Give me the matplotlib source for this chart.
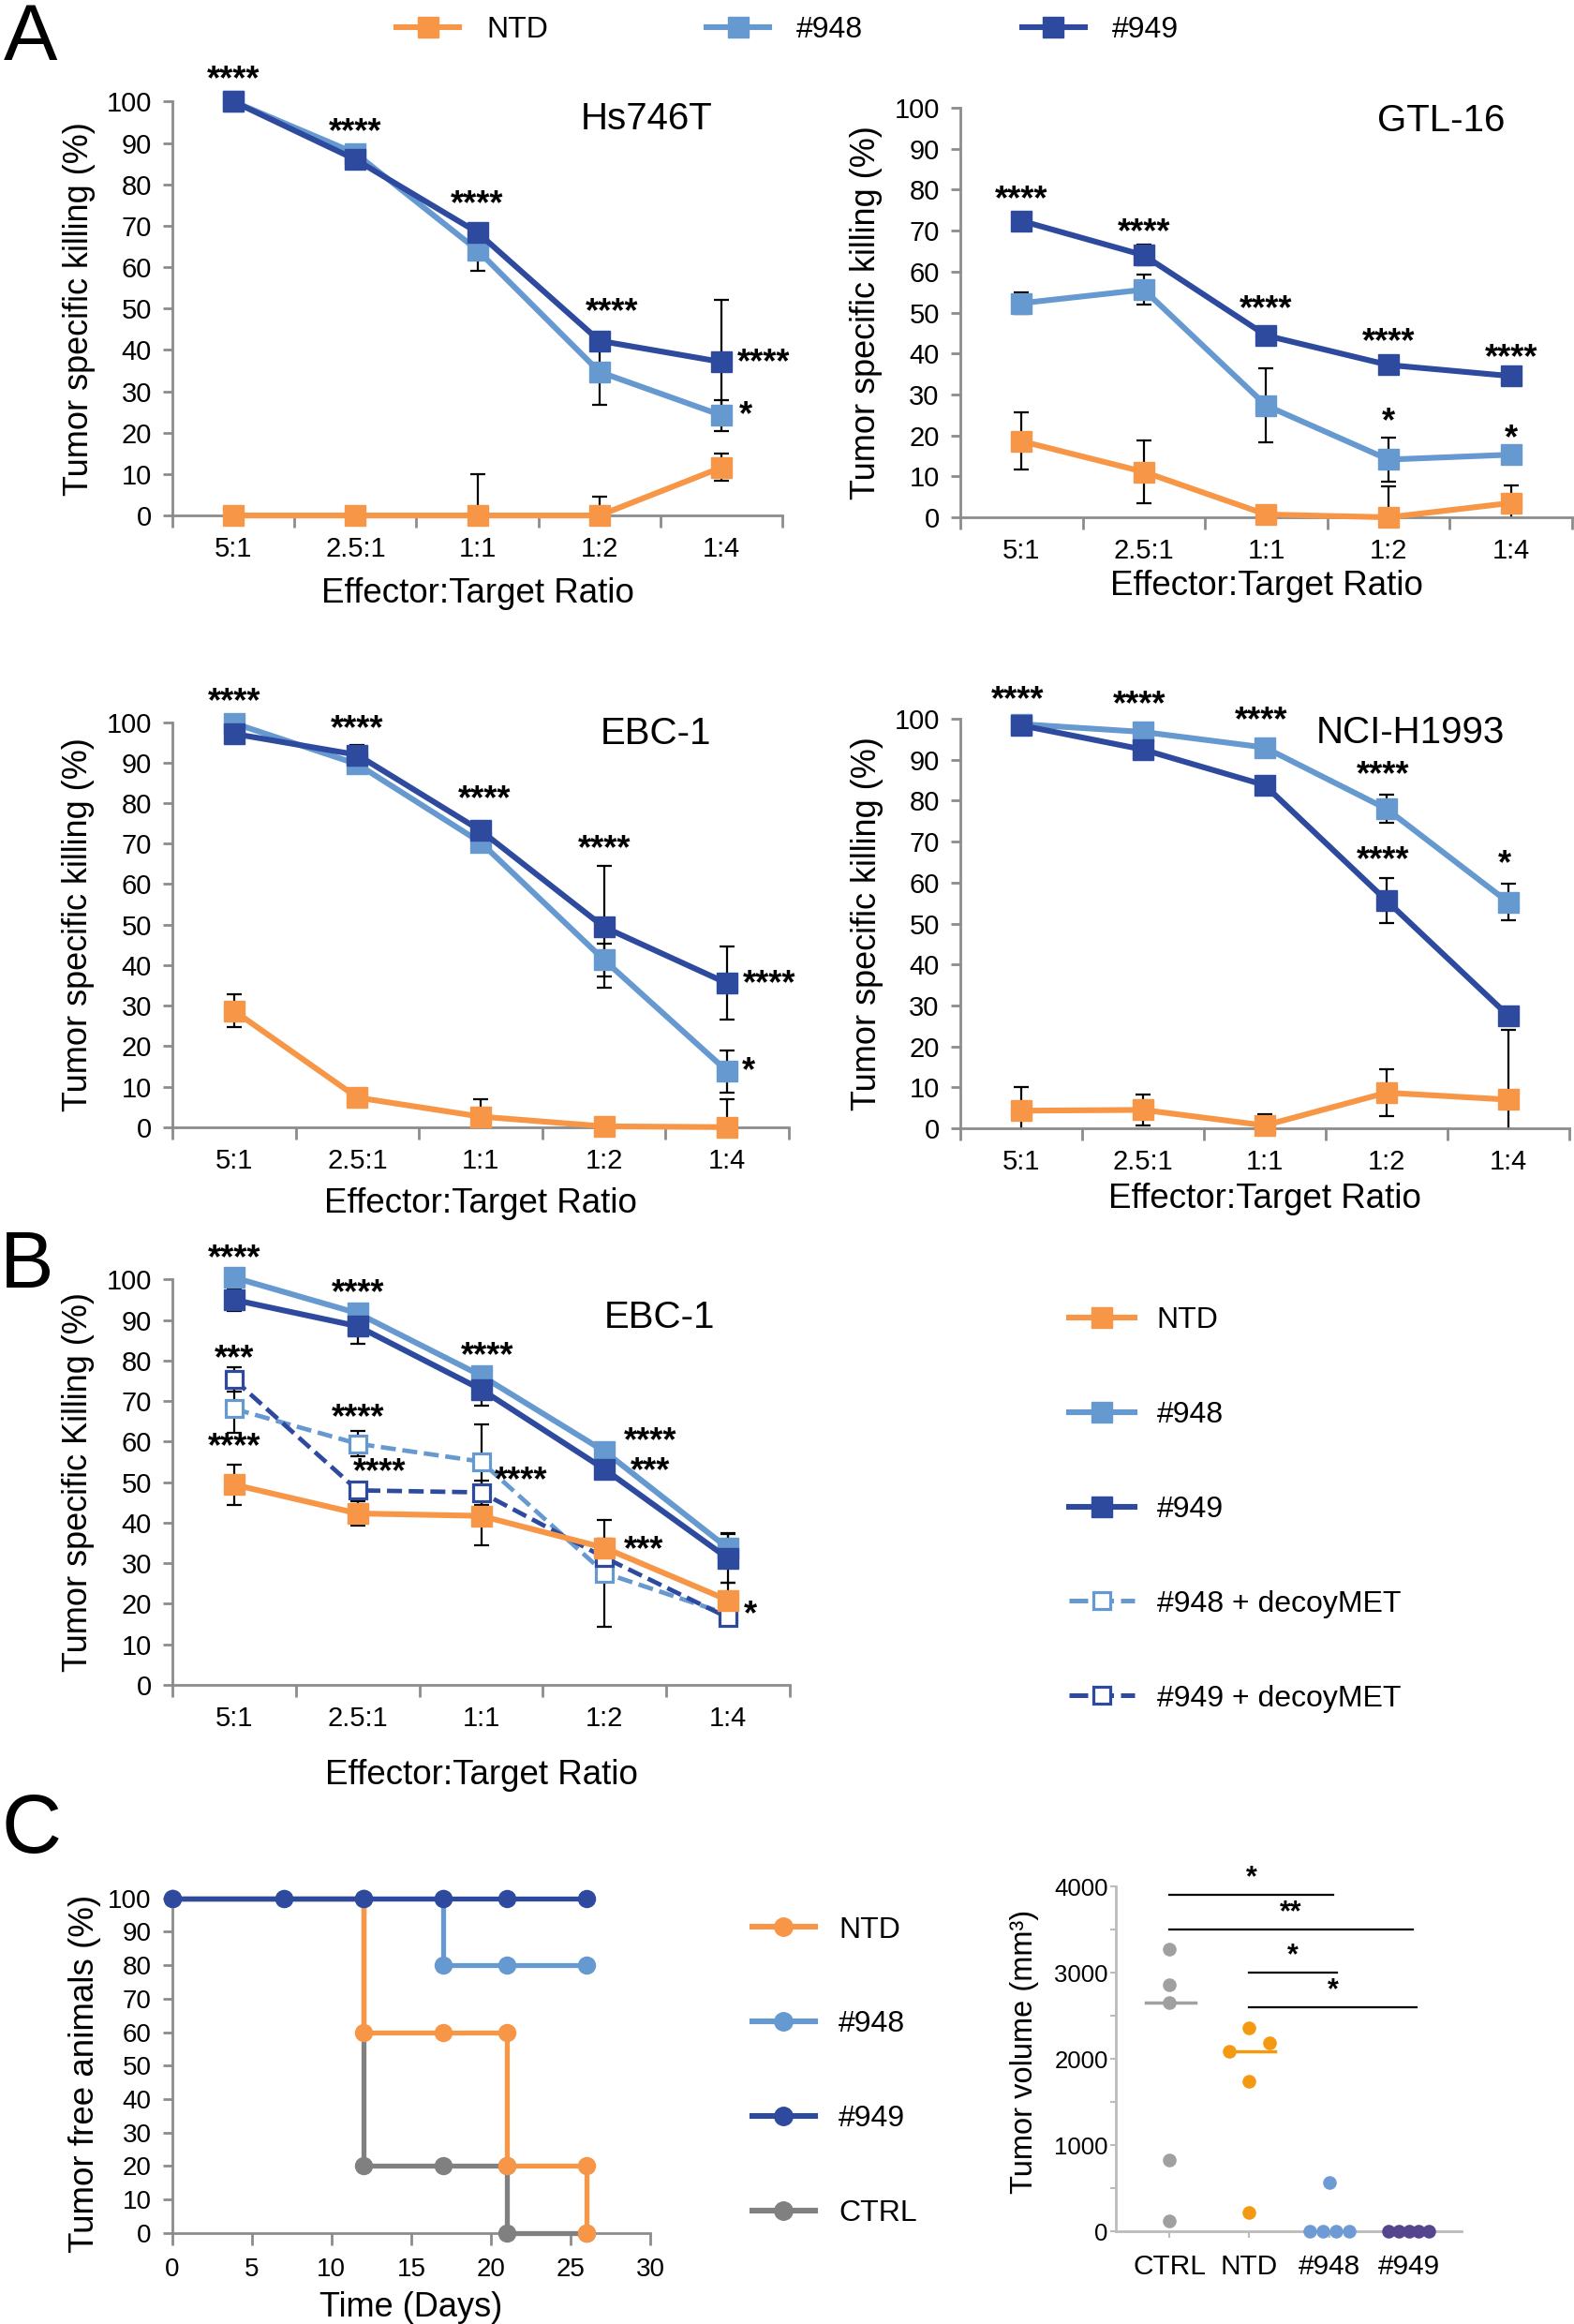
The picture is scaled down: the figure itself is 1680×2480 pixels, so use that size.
import matplotlib
matplotlib.use("Agg")
import matplotlib.pyplot as plt
from matplotlib.lines import Line2D
import numpy as np

plt.rcParams['font.family'] = ['Liberation Sans', 'DejaVu Sans']

# ---------------- data ----------------
ratios = ['5:1', '2.5:1', '1:1', '1:2', '1:4']
groups = ['NTD', '#948', '#949']

hs746t_mean = {'NTD': [0, 0, 0, 0, 11.6],
               '#948': [100, 87.5, 64.1, 34.7, 24.2],
               '#949': [100, 86.0, 68.4, 42.2, 37.1]}
hs746t_err = {'NTD': [0, 1.5, 10, 4.5, 3.3],
              '#948': [1.5, 1, 5, 8, 3.7],
              '#949': [1.5, 1, 1.5, 2, 15]}
hs746t_stars = [(0, 105.1, '****'), (1, 92.4, '****'), (2, 75.0, '****'),
                (3.1, 48.9, '****'), (4.13, 36.8, '****'), (4.2, 24.2, '*')]

gtl16_mean = {'NTD': [18.6, 11.1, 0.7, 0, 3.5],
              '#948': [52.3, 55.6, 27.3, 14.1, 15.3],
              '#949': [72.4, 64.0, 44.4, 37.2, 34.5]}
gtl16_err = {'NTD': [7, 7.7, 0.5, 7.6, 4.3],
             '#948': [2.7, 3.7, 9, 5.3, 1],
             '#949': [1, 2.5, 1.5, 1.5, 1]}
gtl16_stars = [(0, 77.5, '****'), (1, 69.4, '****'), (2, 50.6, '****'),
               (3, 42.6, '****'), (4, 38.7, '****'), (3, 23.2, '*'), (4, 19.1, '*')]

ebc1_mean = {'NTD': [28.7, 7.3, 2.6, 0.2, 0],
             '#948': [99.7, 89.6, 70.3, 41.3, 13.8],
             '#949': [97.1, 91.9, 73.2, 49.4, 35.5]}
ebc1_err = {'NTD': [4.1, 1, 4.4, 1.7, 7.0],
            '#948': [1, 1, 1, 4, 5.2],
            '#949': [2, 2.5, 1, 15, 9]}
ebc1_stars = [(0, 104.9, '****'), (1, 98.1, '****'), (2.03, 80.7, '****'),
              (3, 68.6, '****'), (4.13, 35.2, '****'), (4.17, 13.6, '*')]

h1993_mean = {'NTD': [4.3, 4.5, 0.7, 8.7, 7.0],
              '#948': [98.7, 96.8, 93.0, 78.0, 55.2],
              '#949': [98.4, 92.5, 83.8, 55.6, 27.5]}
h1993_err = {'NTD': [5.8, 3.7, 2.7, 5.8, 17],
             '#948': [1, 1, 1, 3.4, 4.5],
             '#949': [1, 1, 1, 5.4, 1]}
h1993_stars = [(-0.03, 104.5, '****'), (0.97, 103.4, '****'), (1.97, 99.5, '****'),
               (2.97, 86.2, '****'), (2.97, 65.3, '****'), (3.97, 64.3, '*')]

decoy_groups = ['NTD', '#948', '#949', '#948 + decoyMET', '#949 + decoyMET']
decoy_mean = {'NTD': [49.4, 42.3, 41.7, 33.8, 20.9],
              '#948': [100.5, 91.7, 76.3, 57.6, 33.7],
              '#949': [95.0, 88.5, 72.9, 53.2, 31.2],
              '#948 + decoyMET': [68.1, 59.5, 55.1, 27.6, 17.4],
              '#949 + decoyMET': [75.3, 48.0, 47.5, 31.4, 16.6]}
decoy_err = {'NTD': [5, 3, 7.2, 2, 4.3],
             '#948': [1, 1, 1, 1, 3.8],
             '#949': [2.7, 4.3, 3.9, 1, 6],
             '#948 + decoyMET': [5.8, 3.2, 9.1, 13.2, 1],
             '#949 + decoyMET': [3, 2, 3, 4.6, 1.5]}
decoy_stars = [(0, 105, '****'), (1, 96.6, '****'), (0, 80.3, '***'), (0, 58.5, '****'),
               (1, 65.7, '****'), (1.18, 52.3, '****'), (2.05, 81.1, '****'),
               (2.32, 50.2, '****'), (3.37, 59.9, '****'), (3.37, 52.6, '***'),
               (3.32, 33.1, '***'), (4.18, 17.1, '*')]

# survival (tumor free animals, %)
surv_groups = ['NTD', '#948', '#949', 'CTRL']
ctrl_days = [0, 12, 12, 17, 21, 21, 26]
ctrl_free = [100, 100, 20, 20, 20, 0, 0]
ntd_days = [0, 12, 12, 17, 21, 21, 26, 26]
ntd_free = [100, 100, 60, 60, 60, 20, 20, 0]
c948_days = [0, 7, 12, 17, 17, 21, 26]
c948_free = [100, 100, 100, 100, 80, 80, 80]
c949_days = [0, 7, 12, 17, 21, 26]
c949_free = [100, 100, 100, 100, 100, 100]

# tumor volume (mm3)
vol_groups = ['CTRL', 'NTD', '#948', '#949']
ctrl_vol = [3270, 2860, 2650, 830, 120]
ntd_vol = [2360, 2180, 2090, 1740, 220]
c948_vol = [570, 0, 0, 0, 0]
c949_vol = [0, 0, 0, 0, 0]
vol_sig = [(0, 2.05, 3907, '*'), (0, 3.05, 3497, '**'), (1, 2.1, 3003, '*'), (1, 3.1, 2593, '*')]

# ---------------- style ----------------
col = {'NTD': '#F79646', '#948': '#6699CF', '#949': '#2E4A9F',
       '#948 + decoyMET': '#6699CF', '#949 + decoyMET': '#2E4A9F', 'CTRL': '#808080'}
vol_col = {'CTRL': '#A0A0A0', 'NTD': '#F39A12', '#948': '#6E9BD3', '#949': '#55448E'}
axis_gray = '#8C8C8C'

fig = plt.figure(figsize=(16.81, 24.8), dpi=100)


def style_axes(ax, lw=2):
    for s in ['top', 'right']:
        ax.spines[s].set_visible(False)
    for s in ['left', 'bottom']:
        ax.spines[s].set_color(axis_gray)
        ax.spines[s].set_linewidth(lw)


def killing_panel(rect, means, errs, stars, title, title_xy, xlab_off, ylabel, names):
    ax = fig.add_axes(rect)
    x = np.arange(len(ratios))
    for g in names:
        ax.errorbar(x, means[g], yerr=errs[g], fmt='none', ecolor='black',
                    elinewidth=1.6, capsize=6, capthick=1.6, zorder=1)
    for g in names:
        if 'decoy' in g:
            ax.plot(x, means[g], color=col[g], lw=3.4, ls=(0, (3.4, 1.5)), marker='s',
                    ms=12.5, mfc='white', mec=col[g], mew=2.3, zorder=2, clip_on=False)
        else:
            ax.plot(x, means[g], color=col[g], lw=4.4, marker='s', ms=15.5,
                    solid_joinstyle='round', zorder=3, clip_on=False)
    for sx, sy, s in stars:
        ha = 'left' if (len(s) == 4 and sx > 4) else 'center'
        ax.text(sx, sy, s, ha=ha, va='center', fontsize=26, fontweight='bold')
    ax.set_xlim(-0.5, 4.5)
    ax.set_ylim(0, 100)
    ax.set_xticks(x)
    ax.set_xticklabels(ratios)
    ax.set_xticks(np.arange(-0.5, 5, 1), minor=True)
    ax.set_yticks(range(0, 101, 10))
    ax.tick_params(axis='x', which='major', length=0, pad=16, labelsize=21)
    ax.tick_params(axis='x', which='minor', length=9, width=2, color=axis_gray)
    ax.tick_params(axis='y', length=7, width=2, color=axis_gray, pad=9, labelsize=21)
    style_axes(ax)
    ax.text(title_xy[0], title_xy[1], title, transform=ax.transAxes, ha='right',
            va='center', fontsize=29)
    ax.text(0.5, -xlab_off, 'Effector:Target Ratio', transform=ax.transAxes,
            ha='center', va='center', fontsize=26.5)
    ax.text(-0.153, 0.5, ylabel, transform=ax.transAxes, rotation=90,
            ha='center', va='center', fontsize=26)
    return ax


ylab_a = 'Tumor specific killing (%)'
killing_panel([0.1095, 0.7782, 0.3873, 0.1781], hs746t_mean, hs746t_err, hs746t_stars,
              'Hs746T', (0.886, 0.958), 0.190, ylab_a, groups)
killing_panel([0.6097, 0.7774, 0.3885, 0.1762], gtl16_mean, gtl16_err, gtl16_stars,
              'GTL-16', (0.890, 0.968), 0.168, ylab_a, groups)
killing_panel([0.1095, 0.5150, 0.3914, 0.1743], ebc1_mean, ebc1_err, ebc1_stars,
              'EBC-1', (0.874, 0.971), 0.190, ylab_a, groups)
killing_panel([0.6097, 0.5145, 0.3867, 0.1762], h1993_mean, h1993_err, h1993_stars,
              'NCI-H1993', (0.894, 0.966), 0.172, ylab_a, groups)
killing_panel([0.1095, 0.2750, 0.3920, 0.1744], decoy_mean, decoy_err, decoy_stars,
              'EBC-1', (0.879, 0.907), 0.222, 'Tumor specific Killing (%)', decoy_groups)


def handle(g):
    if 'decoy' in g:
        # one dash either side of the open square, as in the reference key
        return Line2D([], [], color=col[g], lw=3.6, ls=(0, (4.0, 1.5)), marker='s', ms=12.5,
                      mfc='white', mec=col[g], mew=2.3)
    return Line2D([], [], color=col[g], lw=4.4, marker='s', ms=15.5)


fig.legend([handle(g) for g in groups], groups, loc='center', bbox_to_anchor=(0.5, 0.987),
           ncol=3, frameon=False, fontsize=23, handlelength=2.1, handletextpad=0.9,
           columnspacing=5.3, borderpad=0)
fig.legend([handle(g) for g in decoy_groups], decoy_groups, loc='center left',
           bbox_to_anchor=(0.669, 0.3505), frameon=False, fontsize=23, handlelength=2.2,
           handletextpad=0.75, labelspacing=2.22, borderpad=0)

# ---------------- C: survival ----------------
axs = fig.add_axes([0.1093, 0.0392, 0.3036, 0.1440])
surv = [('CTRL', ctrl_days, ctrl_free), ('NTD', ntd_days, ntd_free),
        ('#948', c948_days, c948_free), ('#949', c949_days, c949_free)]
for g, d, v in surv:
    axs.plot(d, v, color=col[g], lw=3.8, marker='o', ms=13, clip_on=False, zorder=3)
axs.set_xlim(0, 30)
axs.set_ylim(0, 100)
axs.set_xticks(range(0, 31, 5))
axs.set_yticks(range(0, 101, 10))
axs.tick_params(axis='x', length=9, width=2, color=axis_gray, pad=10, labelsize=20)
axs.tick_params(axis='y', length=7, width=2, color=axis_gray, pad=9, labelsize=20)
style_axes(axs)
axs.text(0.5, -0.222, 'Time (Days)', transform=axs.transAxes, ha='center', va='center',
         fontsize=26)
axs.text(-0.182, 0.476, 'Tumor free animals (%)', transform=axs.transAxes, rotation=90,
         ha='center', va='center', fontsize=26.5)
surv_handles = [Line2D([], [], color=col[g], lw=4.4, marker='o', ms=14) for g in surv_groups]
fig.legend(surv_handles, surv_groups, loc='center left', bbox_to_anchor=(0.468, 0.1085),
           frameon=False, fontsize=23, handlelength=2.1, handletextpad=0.8,
           labelspacing=2.22, borderpad=0)

# ---------------- C: tumor volume ----------------
axv = fig.add_axes([0.7085, 0.0399, 0.2195, 0.1484])
swarm_dx = {'CTRL': [0, 0, 0, 0, 0], 'NTD': [0, 0.25, -0.25, 0, 0],
            '#948': [0, -0.24, -0.08, 0.09, 0.25], '#949': [-0.25, -0.125, 0, 0.125, 0.25]}
vols = {'CTRL': ctrl_vol, 'NTD': ntd_vol, '#948': c948_vol, '#949': c949_vol}
for i, g in enumerate(vol_groups):
    xs = i + np.array(swarm_dx[g])
    axv.plot(xs, vols[g], ls='none', marker='o', ms=10.5, color=vol_col[g],
             mec='none', clip_on=False, zorder=3)
for i, g in enumerate(['CTRL', 'NTD']):
    axv.plot([i - 0.3, i + 0.33], [np.median(vols[g])] * 2, color=vol_col[g], lw=2.5,
             zorder=2)
for x0, x1, y, s in vol_sig:
    axv.plot([x0, x1], [y, y], color='black', lw=1.6, clip_on=False)
    axv.text((x0 + x1) / 2, y + 30, s, ha='center', va='bottom', fontsize=22,
             fontweight='bold')
axv.set_xlim(-0.67, 3.66)
axv.set_ylim(0, 4000)
axv.set_xticks(range(4))
axv.set_xticklabels(vol_groups)
axv.set_yticks(range(0, 4001, 1000))
axv.set_yticks(range(500, 4000, 1000), minor=True)
axv.tick_params(axis='x', length=5, width=1.5, color='#BBBBBB', pad=12, labelsize=21.5)
axv.tick_params(axis='y', which='both', length=4, width=1.5, color='#BBBBBB', pad=2,
                labelsize=18.5)
style_axes(axv)
for s in ['left', 'bottom']:
    axv.spines[s].set_color('#BBBBBB')
axv.text(-0.264, 0.52, 'Tumor volume (mm\u00b3)', transform=axv.transAxes, rotation=90,
         ha='center', va='center', fontsize=23.5)

# panel letters
fig.text(0.002, 0.999, 'A', fontsize=62, va='top', ha='left')
fig.text(0.0, 0.471, 'B', fontsize=62, va='top', ha='left')
fig.text(0.001, 0.229, 'C', fontsize=64, va='top', ha='left')

fig.savefig('out.png', dpi=100)
